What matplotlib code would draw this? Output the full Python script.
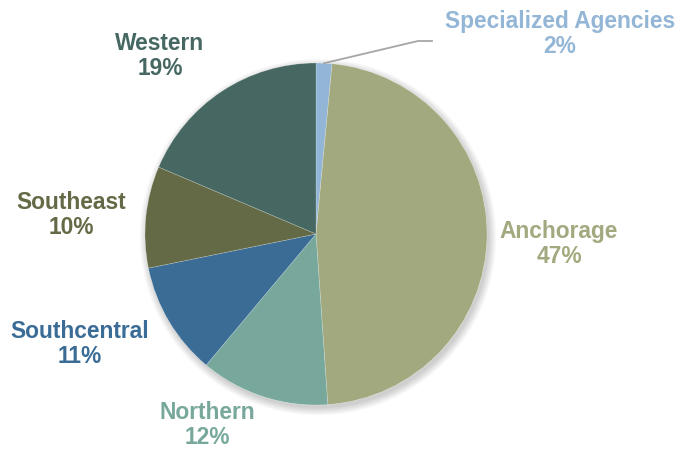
import numpy as np
import matplotlib.pyplot as plt
from matplotlib.patches import Circle

# --- data ---
regions = ["Specialized Agencies", "Anchorage", "Northern",
           "Southcentral", "Southeast", "Western"]
shares = [1.5, 47.4, 12.2, 10.7, 9.6, 18.6]
colors = ["#93B6D6", "#A3A97E", "#78A89C", "#3A6C96", "#646A45", "#476862"]

# label anchor points, in pixels (x, y from top) of the 686x449 picture
label_px = [(560, 34), (559, 244), (207, 425), (80, 344), (71, 215), (160, 56)]

W, H = 686, 449
CX, CY, R = 316, 234, 171


def px2data(x, y):
    return (x - CX) / R, (CY - y) / R


fig = plt.figure(figsize=(W / 100, H / 100), dpi=100)
ax = fig.add_axes([0, 0, 1, 1])

# soft shadow under the pie
for i in range(8):
    ax.add_patch(Circle((0.012, -0.018), 1.0 + i * 0.006, color="#000000",
                        alpha=0.022, lw=0, zorder=0))
ax.add_patch(Circle((0, 0), 1.0, color="white", lw=0, zorder=0.5))

wedges, _ = ax.pie(shares, colors=colors, startangle=90, counterclock=False,
                   radius=1.0, center=(0, 0), frame=True,
                   wedgeprops=dict(edgecolor=(1, 1, 1, 0.25), linewidth=0.5))
for w in wedges:
    w.set_zorder(1)
ax.set_xlim(-CX / R, (W - CX) / R)
ax.set_ylim(-(H - CY) / R, CY / R)
ax.set_aspect("auto")
ax.axis("off")

for name, val, col, (lx, ly) in zip(regions, shares, colors, label_px):
    x, y = px2data(lx, ly)
    ax.text(x, y, f"{name}\n{round(val):.0f}%", color=col, fontsize=16.4,
            fontweight="bold", family="Liberation Sans", ha="center",
            va="center", linespacing=1.1, zorder=3)

# leader line for the small slice
w0 = wedges[0]
mid = np.deg2rad((w0.theta1 + w0.theta2) / 2)
sx, sy = np.cos(mid), np.sin(mid)
kx, ky = px2data(418, 41)
ex, ey = px2data(432, 41)
ax.plot([sx, kx, ex], [sy, ky, ey], color="#A6A6A6", lw=1.3, zorder=2)

fig.savefig("out.png", dpi=100)
